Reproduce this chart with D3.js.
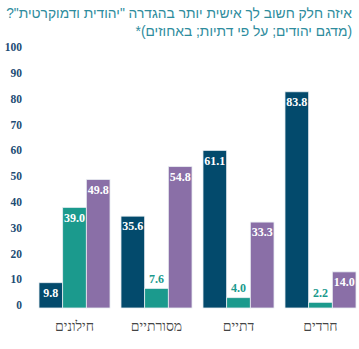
<!DOCTYPE html>
<html lang="he">
<head>
<meta charset="utf-8">
<script src="https://cdn.jsdelivr.net/npm/d3@7"></script>
<style>
  html, body { margin: 0; padding: 0; background: #ffffff; }
  svg { display: block; }
</style>
</head>
<body>
<svg id="chart" width="359" height="349"></svg>
<script>
// Religiosity groups (left to right)
const categories = ["חילונים", "מסורתיים", "דתיים", "חרדים"];
// Three answer series, one value per group (percent)
const seriesNames = ["יהודית", "שניהם", "דמוקרטית"];
const jewishValues = [9.8, 35.6, 61.1, 83.8];
const bothValues = [39.0, 7.6, 4.0, 2.2];
const democraticValues = [49.8, 54.8, 33.3, 14.0];
const yTicks = [0, 10, 20, 30, 40, 50, 60, 70, 80, 90, 100];
const titleLines = [
  "איזה חלק חשוב לך אישית יותר בהגדרה \"יהודית ודמוקרטית\"?",
  "(מדגם יהודים; על פי דתיות; באחוזים)*"
];

const colors = ["#034a6c", "#1b9a8d", "#8a6fa7"];
const seriesValues = [jewishValues, bothValues, democraticValues];

const svg = d3.select("#chart");

const x = d3.scaleBand()
  .domain(categories)
  .range([39, 356])
  .paddingInner(0.134)
  .paddingOuter(0);

const xInner = d3.scaleBand()
  .domain(d3.range(seriesNames.length))
  .range([0, x.bandwidth()]);

const y = d3.scaleLinear().domain([0, 100]).range([308, 50]);

// Title, two right-aligned lines; the font size is fitted so the first line spans the width
const title = svg.append("g")
  .attr("font-family", "'Liberation Sans', Arial, sans-serif")
  .attr("font-size", 15)
  .attr("fill", "#2e8c9d");
const titleTexts = titleLines.map((t, i) =>
  title.append("text")
    .attr("x", 352)
    .attr("y", 18 + i * 18)
    .attr("direction", "rtl")
    .attr("text-anchor", "start")
    .text(t));
const firstWidth = titleTexts[0].node().getComputedTextLength();
const fitted = Math.min(16, 15 * 346 / firstWidth);
title.attr("font-size", fitted);

// Y axis tick labels
const yAxis = svg.append("g")
  .attr("transform", "translate(22,-3)")
  .call(d3.axisLeft(y).tickValues(yTicks).tickSize(0).tickPadding(0).tickFormat(d3.format("d")));
yAxis.select(".domain").remove();
yAxis.selectAll("text")
  .attr("font-family", "'Liberation Serif', 'Times New Roman', serif")
  .attr("font-weight", "bold")
  .attr("font-size", 11.5)
  .attr("fill", "#1d4c74");

// Bars
const groups = svg.append("g")
  .selectAll("g")
  .data(categories)
  .join("g")
  .attr("transform", d => `translate(${x(d)},0)`);

groups.each(function(cat, ci) {
  const g = d3.select(this);
  seriesValues.forEach((vals, si) => {
    const v = vals[ci];
    g.append("rect")
      .attr("x", xInner(si))
      .attr("y", y(v))
      .attr("width", xInner.bandwidth())
      .attr("height", y(0) - y(v))
      .attr("fill", colors[si])
      .attr("stroke", "#e9eef2")
      .attr("stroke-width", 0.8);

    const inside = (y(0) - y(v)) > 22;
    g.append("text")
      .attr("x", xInner(si) + xInner.bandwidth() / 2)
      .attr("y", inside ? y(v) + 10 : y(v) - 10)
      .attr("dy", "0.35em")
      .attr("text-anchor", "middle")
      .attr("font-family", "'Liberation Serif', 'Times New Roman', serif")
      .attr("font-weight", "bold")
      .attr("font-size", 12)
      .attr("fill", inside ? "#ffffff" : colors[si])
      .text(d3.format(".1f")(v));
  });
});

// Category labels
svg.append("g")
  .selectAll("text")
  .data(categories)
  .join("text")
  .attr("x", d => x(d) + x.bandwidth() / 2)
  .attr("y", 331)
  .attr("text-anchor", "middle")
  .attr("direction", "rtl")
  .attr("font-family", "'Liberation Serif', serif")
  .attr("font-size", 14)
  .attr("fill", "#444444")
  .text(d => d);
</script>
</body>
</html>
